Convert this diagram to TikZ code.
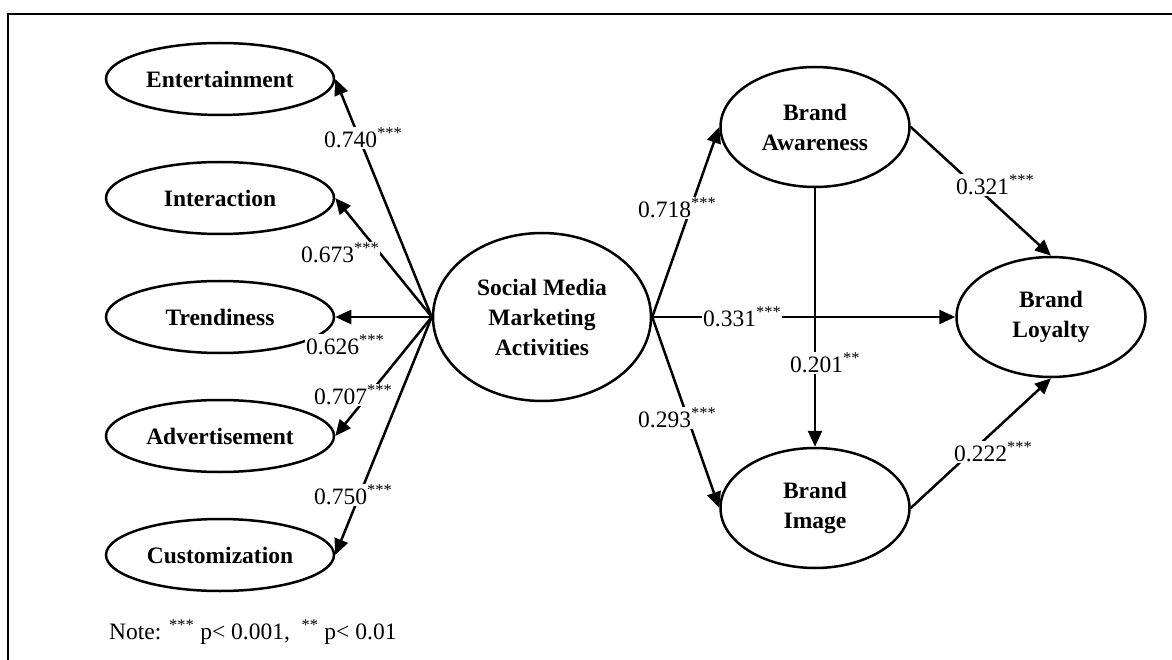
\documentclass[tikz,border=0pt]{standalone}
\usepackage{fontspec}
\setmainfont{Liberation Serif}
\usetikzlibrary{shapes.geometric, arrows.meta, positioning}

\begin{document}
\begin{tikzpicture}[x=1pt, y=-1pt, node distance=44.5pt,
  construct/.style={ellipse, draw, line width=2.5pt, inner sep=0pt, align=center, font=\fontsize{23.5}{30}\selectfont\bfseries},
  dimension/.style={construct, minimum width=228pt, minimum height=72pt},
  brand/.style={construct, minimum width=189pt, minimum height=120pt},
  arrow/.style={-{Triangle[length=16pt, width=14pt]}, line width=2.5pt},
  coef/.style={fill=white, inner sep=1pt, anchor=west, font=\fontsize{23.5}{27}\selectfont}
]
\useasboundingbox (0,0) rectangle (1172,660);
\draw[line width=2.5pt] (1172,14) -- (8,14) -- (8,660);

% constructs
\node[dimension] (ent) at (220,79) {Entertainment};
\node[dimension, below=of ent] (inter) {Interaction};
\node[dimension, below=of inter] (trend) {Trendiness};
\node[dimension, below=of trend] (adv) {Advertisement};
\node[dimension, below=of adv] (cust) {Customization};
\node[construct, minimum width=218pt, minimum height=168pt] (smma) at (542,317) {Social Media\\Marketing\\Activities};
\node[brand] (aware) at (815,127) {Brand\\Awareness};
\node[brand] (image) at (815,508) {Brand\\Image};
\node[brand] (loyal) at (1051,317) {Brand\\Loyalty};

% paths
\draw[arrow] (smma.west) -- (ent.east);
\draw[arrow] (smma.west) -- (inter.east);
\draw[arrow] (smma.west) -- (trend.east);
\draw[arrow] (smma.west) -- (adv.east);
\draw[arrow] (smma.west) -- (cust.east);
\draw[arrow] (smma.east) -- (aware.west);
\draw[arrow] (smma.east) -- (loyal.west);
\draw[arrow] (smma.east) -- (image.west);
\draw[arrow] (aware.south) -- (image.north);
\draw[arrow] (aware.east) -- (loyal.north);
\draw[arrow] (image.east) -- (loyal.south);

% coefficients
\node[coef] at (323,138) {0.740\textsuperscript{***}};
\node[coef] at (300,253) {0.673\textsuperscript{***}};
\node[coef] at (305,345) {0.626\textsuperscript{***}};
\node[coef] at (313,395) {0.707\textsuperscript{***}};
\node[coef] at (313,495) {0.750\textsuperscript{***}};
\node[coef] at (637,208) {0.718\textsuperscript{***}};
\node[coef] at (702,317) {0.331\textsuperscript{***}};
\node[coef] at (637,418) {0.293\textsuperscript{***}};
\node[coef] at (789,363) {0.201\textsuperscript{**}};
\node[coef] at (955,185) {0.321\textsuperscript{***}};
\node[coef] at (953,452) {0.222\textsuperscript{***}};

\node[coef, fill=none] at (108,632) {Note: \textsuperscript{***} p< 0.001, \ \textsuperscript{**} p< 0.01};
\end{tikzpicture}
\end{document}
